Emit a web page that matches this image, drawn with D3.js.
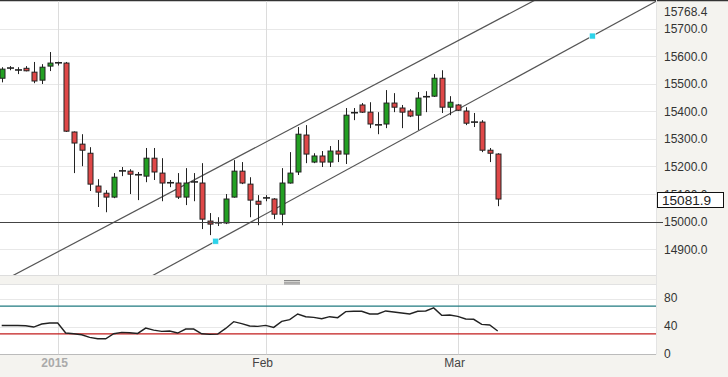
<!DOCTYPE html>
<html>
<head>
<meta charset="utf-8">
<script src="https://cdn.jsdelivr.net/npm/d3@7"></script>
<style>
  body { margin: 0; background: #fff; }
  svg { display: block; font-family: "Liberation Sans", Arial, sans-serif; }
</style>
</head>
<body>
<svg id="mainsvg" width="728" height="377"></svg>
<script>
// candle index 0 = first session of 2015, one step per session
const firstIdx = -7;
const opens  = [15520,15556,15549,15556,15542,15513,15564,15575,15575,15325,15281,15248,15129,15103,15089,15183,15183,15169,15165,15230,15176,15140,15140,15089,15143,15140,15002,14995,14995,15089,15183,15136,15074,15085,15082,15027,15140,15180,15314,15216,15238,15216,15256,15245,15394,15423,15397,15350,15354,15430,15412,15401,15386,15452,15455,15520,15415,15423,15401,15357,15361,15259,15245];
const highs  = [15560,15564,15560,15564,15579,15571,15615,15580,15579,15327,15317,15270,15154,15114,15176,15198,15190,15180,15267,15267,15230,15151,15176,15194,15176,15212,15031,15016,15100,15223,15216,15161,15096,15096,15085,15194,15252,15343,15350,15248,15256,15274,15296,15412,15412,15430,15433,15397,15477,15466,15423,15408,15470,15473,15535,15549,15455,15426,15415,15394,15368,15267,15248];
const lows   = [15505,15549,15535,15545,15502,15499,15546,15566,15325,15176,15201,15111,15053,15034,15085,15165,15100,15078,15143,15151,15074,15125,15082,15060,15074,14973,14951,14984,14991,15087,15136,15016,14987,15074,15009,14987,15138,15169,15212,15212,15198,15198,15216,15209,15368,15394,15339,15317,15339,15397,15339,15379,15332,15397,15452,15394,15386,15401,15350,15343,15252,15216,15056];
const closes = [15553,15557,15550,15547,15510,15560,15575,15576,15328,15285,15259,15136,15107,15089,15161,15184,15172,15170,15230,15180,15140,15141,15089,15140,15144,15009,14991,14996,15082,15183,15140,15078,15063,15086,15027,15140,15176,15317,15245,15238,15216,15256,15245,15386,15395,15397,15354,15351,15430,15415,15397,15383,15448,15453,15520,15415,15433,15404,15357,15361,15259,15248,15081.9];
const rsi    = [42,42,42,41.7,39.8,44.2,45.6,45.6,31.1,30.1,28.6,24.8,22.8,22.8,30.1,32,31.5,30.5,38.3,35.4,33.5,34,31.1,36.9,36.9,30.1,29.1,29.6,37.8,47.6,44.7,41.3,40.8,42.2,39.3,48,50.5,58.7,54.8,53.8,51.9,54.8,53.4,62.1,62.6,62.6,58.7,58.7,63.1,61.6,60.2,58.7,62.6,63.1,67.5,56.7,57.2,55.3,51.5,51,43.6,42.7,34];

const priceTicks = [14900,15000,15100,15200,15300,15400,15500,15600,15700];
const priceTop = 15768.4;
const lastPrice = 15081.9;
const supportLevel = 15000;
const rsiTicks = [0,40,80];
const rsiLevels = [70,30];
const xTickIdx = [0,26,50];
const xTickLabels = ['2015','Feb','Mar'];
// channel lines: two anchor points [index, price] each
const channelUpper = [[2.8,14933],[59.25,15797]];
const channelLower = [[19.75,14929],[66.83,15673]];

const svg = d3.select('#mainsvg');
const W = +svg.attr('width'), H = +svg.attr('height');
const plotR = 656;
const main = {top: 1, bottom: 275};
const sub = {top: 285, bottom: 354.5};

const x = d3.scaleLinear().domain([0, 50]).range([57.7, 457.7]);
const y = d3.scaleLinear().domain([14900, 15700]).range([249.2, 28.6]);
const yr = d3.scaleLinear().domain([0, 80]).range([354.5, 299.3]);

const candles = opens.map((o, k) => ({i: firstIdx + k, o, h: highs[k], l: lows[k], c: closes[k]}));

// backgrounds
svg.append('rect').attr('width', W).attr('height', H).attr('fill', '#f4f3ef');
svg.append('rect').attr('x', 0).attr('y', main.top).attr('width', plotR).attr('height', main.bottom - main.top).attr('fill', '#fff');
svg.append('rect').attr('x', 0).attr('y', sub.top).attr('width', plotR).attr('height', sub.bottom - sub.top).attr('fill', '#fff');
svg.append('line').attr('x1', 0).attr('x2', W).attr('y1', 0.5).attr('y2', 0.5).attr('stroke', '#333').attr('stroke-width', 1.5);
svg.append('line').attr('x1', 0).attr('x2', plotR).attr('y1', main.bottom + 0.5).attr('y2', main.bottom + 0.5).attr('stroke', '#ddd');
svg.append('line').attr('x1', 0).attr('x2', plotR).attr('y1', sub.top - 0.5).attr('y2', sub.top - 0.5).attr('stroke', '#e2e2e2');
svg.append('line').attr('x1', 0).attr('x2', plotR).attr('y1', sub.bottom).attr('y2', sub.bottom).attr('stroke', '#bbb');
svg.append('line').attr('x1', plotR + 0.5).attr('x2', plotR + 0.5).attr('y1', 0).attr('y2', sub.bottom).attr('stroke', '#e4e4e4');

// separator grip
svg.selectAll('.grip').data([0, 1.7, 3.4]).join('line').attr('class', 'grip')
  .attr('x1', 284).attr('x2', 300).attr('y1', d => 280.5 + d).attr('y2', d => 280.5 + d)
  .attr('stroke', '#888').attr('stroke-width', 1);

// clip paths
const defs = svg.append('defs');
defs.append('clipPath').attr('id', 'clipMain').append('rect')
  .attr('x', 0).attr('y', main.top).attr('width', plotR).attr('height', main.bottom - main.top);
defs.append('clipPath').attr('id', 'clipSub').append('rect')
  .attr('x', 0).attr('y', sub.top).attr('width', plotR).attr('height', sub.bottom - sub.top);

const gm = svg.append('g').attr('clip-path', 'url(#clipMain)');
const gs = svg.append('g').attr('clip-path', 'url(#clipSub)');

// grid
gm.selectAll('.hgrid').data(priceTicks).join('line').attr('class', 'hgrid')
  .attr('x1', 0).attr('x2', plotR).attr('y1', d => Math.round(y(d)) + 0.5).attr('y2', d => Math.round(y(d)) + 0.5)
  .attr('stroke', '#e8e8e8');
gm.selectAll('.vgrid').data(xTickIdx).join('line').attr('class', 'vgrid')
  .attr('x1', d => Math.round(x(d)) + 0.5).attr('x2', d => Math.round(x(d)) + 0.5).attr('y1', 0).attr('y2', main.bottom)
  .attr('stroke', '#dcdcdc');
gs.selectAll('.rgrid').data(rsiTicks.filter(d => d > 0)).join('line').attr('class', 'rgrid')
  .attr('x1', 0).attr('x2', plotR).attr('y1', d => Math.round(yr(d)) + 0.5).attr('y2', d => Math.round(yr(d)) + 0.5)
  .attr('stroke', '#e8e8e8');
gs.selectAll('.vgrid').data(xTickIdx).join('line').attr('class', 'vgrid')
  .attr('x1', d => Math.round(x(d)) + 0.5).attr('x2', d => Math.round(x(d)) + 0.5).attr('y1', sub.top).attr('y2', sub.bottom)
  .attr('stroke', '#dcdcdc');

// 15000 level
svg.append('line').attr('x1', 0).attr('x2', 663)
  .attr('y1', Math.round(y(supportLevel)) + 0.5).attr('y2', Math.round(y(supportLevel)) + 0.5)
  .attr('stroke', '#444').attr('stroke-width', 1);

// channel lines, extended across the panel
const extend = (p) => {
  const s = (p[1][1] - p[0][1]) / (p[1][0] - p[0][0]);
  return [-12, 90].map(i => [x(i), y(p[0][1] + s * (i - p[0][0]))]);
};
gm.selectAll('.channel').data([channelUpper, channelLower]).join('line').attr('class', 'channel')
  .attr('x1', d => extend(d)[0][0]).attr('y1', d => extend(d)[0][1])
  .attr('x2', d => extend(d)[1][0]).attr('y2', d => extend(d)[1][1])
  .attr('stroke', '#555').attr('stroke-width', 1.2);

// candles
const bw = 5;
const cg = gm.selectAll('.candle').data(candles).join('g').attr('class', 'candle');
cg.append('line')
  .attr('x1', d => Math.round(x(d.i)) + 0.5).attr('x2', d => Math.round(x(d.i)) + 0.5)
  .attr('y1', d => y(d.h)).attr('y2', d => y(d.l))
  .attr('stroke', '#222').attr('stroke-width', 1);
cg.filter(d => Math.abs(y(d.o) - y(d.c)) >= 1.5).append('rect')
  .attr('x', d => Math.round(x(d.i)) - 2)
  .attr('y', d => y(Math.max(d.o, d.c)))
  .attr('width', bw)
  .attr('height', d => Math.abs(y(d.o) - y(d.c)))
  .attr('fill', d => d.c >= d.o ? '#23a023' : '#df4848')
  .attr('stroke', '#222').attr('stroke-width', 1);
cg.filter(d => Math.abs(y(d.o) - y(d.c)) < 1.5).append('line')
  .attr('x1', d => Math.round(x(d.i)) - 3).attr('x2', d => Math.round(x(d.i)) + 4)
  .attr('y1', d => y(d.c)).attr('y2', d => y(d.c))
  .attr('stroke', '#222').attr('stroke-width', 1.6);

// channel anchor markers
gm.selectAll('.anchor').data([channelLower[0], channelLower[1]]).join('rect').attr('class', 'anchor')
  .attr('x', d => x(d[0]) - 3).attr('y', d => y(d[1]) - 3)
  .attr('width', 6).attr('height', 6)
  .attr('fill', '#2ed3ea').attr('stroke', '#fff').attr('stroke-width', 0.6);

// RSI panel
gs.selectAll('.level').data(rsiLevels).join('line').attr('class', 'level')
  .attr('x1', 0).attr('x2', plotR).attr('y1', d => yr(d)).attr('y2', d => yr(d))
  .attr('stroke', (d, k) => k === 0 ? '#217a80' : '#c21d1d').attr('stroke-width', 1.2);
gs.append('path').datum(rsi)
  .attr('d', d3.line().x((d, k) => x(firstIdx + k)).y(d => yr(d)))
  .attr('fill', 'none').attr('stroke', '#222').attr('stroke-width', 1.4);

// right axis labels
svg.selectAll('.plabel').data(priceTicks).join('text').attr('class', 'plabel')
  .attr('x', 664).attr('y', d => y(d) + 4.5)
  .attr('font-size', 12).attr('fill', '#333')
  .text(d => d.toFixed(1));
svg.append('text').attr('x', 664).attr('y', y(priceTop) + 6.5)
  .attr('font-size', 12).attr('fill', '#333').text(priceTop.toFixed(1));
svg.selectAll('.rlabel').data(rsiTicks).join('text').attr('class', 'rlabel')
  .attr('x', 664).attr('y', d => yr(d) + 3)
  .attr('font-size', 12).attr('fill', '#333')
  .text(d => d);

// last price box
const ly = y(lastPrice);
svg.append('rect').attr('x', 657.5).attr('y', Math.round(ly) - 6.5).attr('width', 66).attr('height', 15)
  .attr('fill', '#fff').attr('stroke', '#111').attr('stroke-width', 1);
svg.append('text').attr('x', 662).attr('y', Math.round(ly) + 6)
  .attr('font-size', 13.6).attr('fill', '#222').text(lastPrice.toFixed(1));

// x axis labels
svg.selectAll('.xlabel').data(xTickIdx).join('text').attr('class', 'xlabel')
  .attr('x', d => x(d) - 3).attr('y', 366.5)
  .attr('text-anchor', 'middle').attr('font-size', 12)
  .attr('font-weight', (d, k) => k === 0 ? 'bold' : 'normal')
  .attr('fill', (d, k) => k === 0 ? '#aaa' : '#444')
  .text((d, k) => xTickLabels[k]);
</script>
</body>
</html>
